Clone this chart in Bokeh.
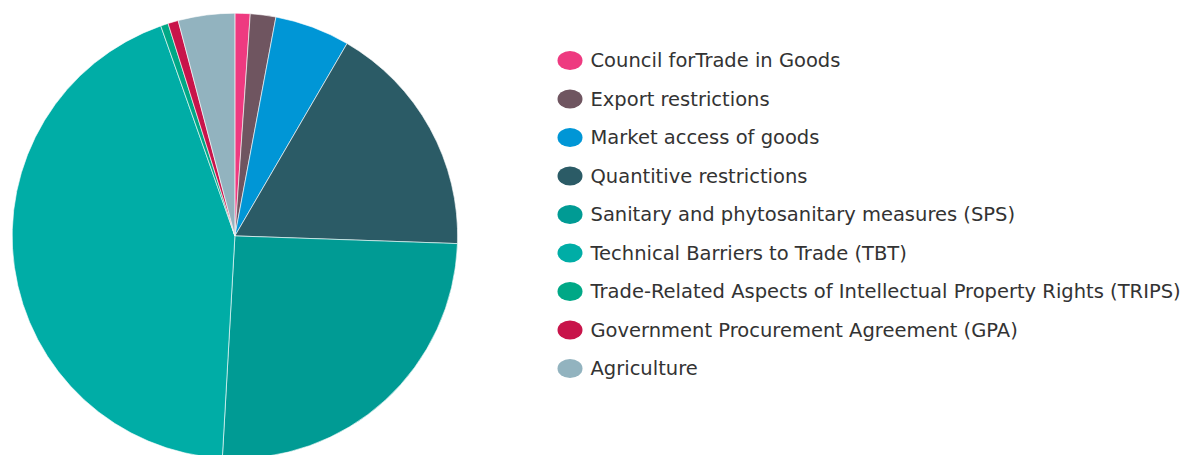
import numpy as np
from bokeh.plotting import figure
from bokeh.models import ColumnDataSource
from bokeh.embed import file_html
from bokeh.resources import INLINE

categories = [
    "Council forTrade in Goods",
    "Export restrictions",
    "Market access of goods",
    "Quantitive restrictions",
    "Sanitary and phytosanitary measures (SPS)",
    "Technical Barriers to Trade (TBT)",
    "Trade-Related Aspects of Intellectual Property Rights (TRIPS)",
    "Government Procurement Agreement (GPA)",
    "Agriculture",
]
shares = [1.1, 1.85, 5.45, 17.15, 25.35, 43.7, 0.55, 0.75, 4.1]
colors = ["#EE3A80", "#6F5560", "#0096D6", "#2B5B66", "#009B94",
          "#00ADA6", "#00A886", "#C8144A", "#92B3BF"]

W, H = 1184, 455
p = figure(width=W, height=H, x_range=(0, W), y_range=(0, H),
           output_backend="svg", toolbar_location=None, min_border=0)
p.axis.visible = False
p.grid.visible = False
p.outline_line_color = None
p.background_fill_color = "white"
p.border_fill_color = "white"

vals = np.array(shares, dtype=float)
frac = vals / vals.sum()
cum = np.concatenate([[0.0], np.cumsum(frac)])
start = np.pi / 2 - cum[:-1] * 2 * np.pi
end = np.pi / 2 - cum[1:] * 2 * np.pi

cx, cy, r = 234.4, H - 235.4, 222.7
src = ColumnDataSource(dict(start=start, end=end, color=colors, cat=categories))
p.wedge(x=cx, y=cy, radius=r, start_angle="start", end_angle="end",
        direction="clock", fill_color="color", line_color="white",
        line_width=0.6, source=src)

n = len(categories)
ly = [H - (60 + i * 38.5) for i in range(n)]
lsrc = ColumnDataSource(dict(x=[569.5] * n, tx=[590] * n, y=ly,
                             color=colors, cat=categories))
p.ellipse(x="x", y="y", width=25, height=19, fill_color="color",
          line_color=None, source=lsrc)
p.text(x="tx", y="y", text="cat", text_font_size="19.5px",
       text_font={"value": "DejaVu Sans"}, text_color="#333333",
       text_baseline="middle", text_align="left", source=lsrc)

open("out.html", "w").write(file_html(p, INLINE))
